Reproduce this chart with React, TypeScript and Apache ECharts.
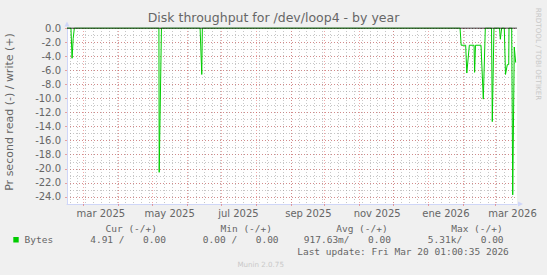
import React, { useEffect, useRef } from 'react';
import * as echarts from 'echarts';

// ---- data ----
const titleText = 'Disk throughput for /dev/loop4 - by year';
const yAxisTitle = 'Pr second read (-) / write (+)';
const watermarkText = 'RRDTOOL / TOBI OETIKER';
const footerText = 'Munin 2.0.75';

const xStart = '2025-02-14 12:00';
const xEnd = '2026-03-20 12:00';
const yMin = -25;
const yMax = 0;
const yMajorTicks = [-24, -22, -20, -18, -16, -14, -12, -10, -8, -6, -4, -2, 0];

// read (-) series, bytes per second (drawn negative)
const readTimes = [
  '2025-02-14 12:00', '2025-02-18 00:00', '2025-02-19 00:00', '2025-02-20 00:00', '2025-02-21 00:00',
  '2025-05-07 00:00', '2025-05-07 06:00', '2025-05-09 06:00',
  '2025-06-12 12:00', '2025-06-14 00:00', '2025-06-14 12:00',
  '2026-01-29 00:00', '2026-01-30 00:00', '2026-02-03 00:00', '2026-02-04 00:00', '2026-02-06 06:00',
  '2026-02-10 10:00', '2026-02-10 22:00', '2026-02-11 17:00', '2026-02-16 14:00', '2026-02-18 15:00',
  '2026-02-20 10:00', '2026-02-25 22:00', '2026-02-26 14:00', '2026-02-28 02:00',
  '2026-03-05 00:00', '2026-03-05 17:00', '2026-03-06 22:00', '2026-03-09 06:00', '2026-03-10 07:00',
  '2026-03-11 22:00', '2026-03-13 04:00', '2026-03-13 10:00', '2026-03-15 19:00', '2026-03-16 17:00',
  '2026-03-18 02:00', '2026-03-19 08:00',
];
const readValues = [
  0, 0, -4.3, -1.5, 0,
  0, -20.5, 0,
  0, -6.6, 0,
  0, -2.45, -2.45, -6.4, -2.45,
  -2.45, -6.3, -2.45, -2.45, -10.1,
  0, 0, -13.3, 0,
  0, -1.6, 0, 0, -6.6,
  -5.2, -5.2, 0, 0, -23.7,
  -2.7, -4.91,
];

const xLabelTexts = ['mar 2025', 'may 2025', 'jul 2025', 'sep 2025', 'nov 2025', 'ene 2026', 'mar 2026'];
const xLabelTimes = [
  '2025-03-16 12:00', '2025-05-16 12:00', '2025-07-16 12:00', '2025-09-16 12:00',
  '2025-11-16 12:00', '2026-01-16 12:00', '2026-03-16 12:00',
];

const legendHeaders = ['Cur (-/+)', 'Min (-/+)', 'Avg (-/+)', 'Max (-/+)'];
const legendName = 'Bytes';
const legendReadParts = ['4.91 /', '0.00 /', '917.63m/', '5.31k/'];
const legendWriteParts = ['0.00', '0.00', '0.00', '0.00'];
const lastUpdateText = 'Last update: Fri Mar 20 01:00:35 2026';

// ---- layout / style ----
const FONT = 'DejaVu Sans';
const MONO = 'DejaVu Sans Mono';
const TEXT_COLOR = '#666666';
const LINE_GREEN = '#00CC00';
const MAJOR = 'rgba(222,79,79,0.5)';
const MINOR = 'rgba(143,143,143,0.5)';
const AXIS = '#CFD6F8';
const DASH = [1, 2];

const ts = (s: string) => new Date(s.replace(' ', 'T') + ':00').getTime();

function monthStarts(): number[] {
  const out: number[] = [];
  const a = ts(xStart), b = ts(xEnd);
  for (let m = 0; m < 16; m++) {
    const t = new Date(2025, 1 + m, 1).getTime();
    if (t >= a && t <= b) out.push(t);
  }
  return out;
}
function mondays(): number[] {
  const out: number[] = [];
  const b = ts(xEnd);
  for (let k = 0; k < 60; k++) {
    const t = new Date(2025, 1, 17 + 7 * k).getTime();
    if (t <= b) out.push(t);
  }
  return out;
}

function txt(x: number, y: number, text: string, opts: any = {}) {
  const align = opts.align || 'left';
  return {
    type: 'text',
    x,
    y,
    rotation: opts.rotation || 0,
    silent: true,
    style: {
      text,
      fill: opts.color || TEXT_COLOR,
      fontSize: opts.size || 10,
      fontFamily: opts.family || FONT,
      align,
      textAlign: align,
      verticalAlign: 'middle',
      textVerticalAlign: 'middle',
    },
  };
}

export default function App() {
  const ref = useRef<HTMLDivElement>(null);
  useEffect(() => {
    if (!ref.current) return;
    const chart = echarts.init(ref.current, undefined, { renderer: 'svg' });
    const xMin = ts(xStart);
    const xMax = ts(xEnd);
    const labelTs = xLabelTimes.map(ts);
    const data = readTimes.map((t, i) => [ts(t), readValues[i]]);

    const legendStarts = [90.2, 202.8, 303.8, 427.8];
    const legendEnds = [166, 278.6, 391, 503.6];
    const headerStarts = [105.5, 220.5, 336.2, 451.2];

    const graphic: any[] = [
      txt(273.5, 17.7, titleText, { size: 12.5, align: 'center' }),
      txt(9.7, 112, yAxisTitle, { size: 11, align: 'center', rotation: Math.PI / 2 }),
      txt(538, 54, watermarkText, { size: 7.2, align: 'center', rotation: -Math.PI / 2, color: '#c8c8c8' }),
      txt(260.7, 264, footerText, { size: 7.1, align: 'center', color: '#c8c8c8' }),
      {
        type: 'rect',
        silent: true,
        shape: { x: 13.3, y: 237, width: 5.4, height: 5.4 },
        style: { fill: LINE_GREEN },
      },
      txt(24.5, 239.7, legendName, { size: 9.5, family: MONO }),
      txt(297.2, 251, lastUpdateText, { size: 9.5, family: MONO }),
    ];
    legendHeaders.forEach((h, i) => graphic.push(txt(headerStarts[i], 228.3, h, { size: 9.5, family: MONO })));
    legendReadParts.forEach((p, i) => graphic.push(txt(legendStarts[i], 239.7, p, { size: 9.5, family: MONO })));
    legendWriteParts.forEach((p, i) => graphic.push(txt(legendEnds[i], 239.7, p, { size: 9.5, family: MONO, align: 'right' })));

    chart.setOption({
      animation: false,
      backgroundColor: '#F0F0F0',
      textStyle: { fontFamily: FONT },
      grid: {
        left: 67, right: 30, top: 28, bottom: 71,
        show: true, backgroundColor: '#FFFFFF', borderWidth: 0,
      },
      xAxis: [
        {
          type: 'value', position: 'top', min: xMin, max: xMax, scale: true,
          axisLine: { show: false },
          axisTick: { show: false, customValues: mondays() },
          axisLabel: { show: false },
          splitLine: { show: true, lineStyle: { color: MINOR, type: DASH, width: 1 } },
        },
        {
          type: 'value', position: 'bottom', min: xMin, max: xMax, scale: true,
          axisLine: {
            show: true, onZero: false, lineStyle: { color: AXIS, width: 1 },
            symbol: ['none', 'triangle'], symbolSize: [5, 5], symbolOffset: [0, 3.5],
          },
          axisTick: { show: true, length: 2, customValues: monthStarts(), lineStyle: { color: MAJOR } },
          axisLabel: {
            customValues: labelTs,
            formatter: (v: number) => {
              const i = labelTs.findIndex((t) => Math.abs(t - v) < 60000);
              return i >= 0 ? xLabelTexts[i] : '';
            },
            color: TEXT_COLOR, fontSize: 10, fontFamily: FONT, margin: 4,
          },
          splitLine: { show: true, lineStyle: { color: MAJOR, type: DASH, width: 1 } },
        },
      ],
      yAxis: [
        {
          type: 'value', position: 'right', min: yMin, max: yMax, interval: 1,
          axisLine: { show: false },
          axisTick: { show: false },
          axisLabel: { show: false },
          splitLine: { show: true, lineStyle: { color: MINOR, type: DASH, width: 1 } },
        },
        {
          type: 'value', position: 'left', min: yMin, max: yMax,
          axisLine: {
            show: true, onZero: false, lineStyle: { color: AXIS, width: 1 },
            symbol: ['none', 'triangle'], symbolSize: [5, 5], symbolOffset: [0, 4],
          },
          axisTick: { show: true, length: 2, customValues: yMajorTicks, lineStyle: { color: MAJOR } },
          axisLabel: {
            customValues: yMajorTicks,
            formatter: (v: number) => v.toFixed(1),
            color: TEXT_COLOR, fontSize: 10, fontFamily: FONT, margin: 6,
          },
          splitLine: { show: true, lineStyle: { color: MAJOR, type: DASH, width: 1 } },
        },
      ],
      series: [
        {
          name: 'read', type: 'line', xAxisIndex: 1, yAxisIndex: 1, data,
          symbol: 'none', showSymbol: false,
          lineStyle: { color: LINE_GREEN, width: 1 }, z: 3,
        },
        {
          name: 'zero', type: 'line', xAxisIndex: 1, yAxisIndex: 1, data: [[xMin, 0], [xMax, 0]],
          symbol: 'none', showSymbol: false,
          lineStyle: { color: '#000000', width: 1 }, z: 4,
        },
      ],
      graphic,
    });
    return () => chart.dispose();
  }, []);
  return (
    <div
      ref={ref}
      style={{ position: 'fixed', left: 0, top: 0, width: 547, height: 275 }}
    />
  );
}
